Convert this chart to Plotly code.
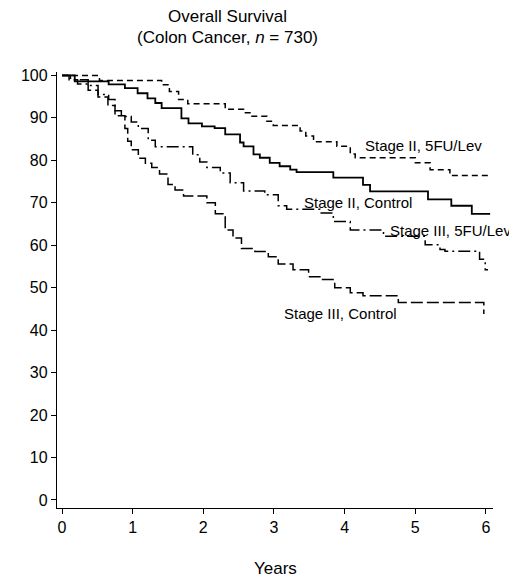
import plotly.graph_objects as go

# ---- data ----
years_s2_lev = [0, 0.53, 1.41, 1.52, 1.65, 1.78, 2.31, 2.57, 2.66, 2.90, 2.99, 3.37, 3.45, 3.56, 3.89, 4.08, 4.15, 5.00, 5.21, 5.49, 6.05]
surv_s2_lev = [100, 98.8, 97.8, 96.2, 94.3, 93.3, 92.0, 91.2, 90.4, 89.2, 88.2, 86.9, 85.7, 84.4, 83.3, 81.5, 80.6, 79.4, 77.8, 76.4, 76.4]

years_s2_ctl = [0, 0.18, 0.66, 0.89, 1.07, 1.21, 1.32, 1.41, 1.69, 1.79, 1.98, 2.16, 2.31, 2.52, 2.57, 2.71, 2.80, 2.94, 3.08, 3.23, 3.32, 3.84, 4.26, 4.36, 5.18, 5.51, 5.80, 6.06]
surv_s2_ctl = [100, 98.6, 97.9, 97.0, 95.8, 94.6, 93.5, 92.3, 89.9, 88.7, 88.0, 87.6, 86.1, 84.2, 83.3, 81.4, 80.6, 79.4, 78.6, 77.8, 77.2, 75.9, 74.2, 72.7, 70.8, 69.3, 67.4, 67.4]

years_s3_lev = [0, 0.10, 0.37, 0.51, 0.66, 0.75, 0.84, 0.98, 1.08, 1.22, 1.32, 1.85, 1.95, 2.05, 2.24, 2.38, 2.57, 2.87, 3.06, 3.18, 3.65, 3.84, 4.08, 4.55, 5.14, 5.35, 5.42, 5.91, 5.99, 6.03]
surv_s3_lev = [100, 99.0, 97.6, 95.5, 94.3, 91.7, 90.3, 89.0, 87.5, 84.7, 83.2, 81.3, 79.6, 78.3, 77.0, 74.7, 72.8, 71.9, 69.3, 68.5, 67.6, 65.6, 63.6, 62.1, 60.1, 59.0, 58.6, 56.7, 54.2, 54.2]

years_s3_ctl = [0, 0.12, 0.22, 0.37, 0.51, 0.65, 0.75, 0.89, 0.93, 0.98, 1.08, 1.18, 1.27, 1.38, 1.50, 1.60, 1.72, 2.05, 2.17, 2.31, 2.42, 2.54, 2.73, 2.92, 3.06, 3.27, 3.49, 3.65, 3.86, 4.08, 4.26, 4.76, 5.97, 5.98]
surv_s3_ctl = [100, 99.0, 98.0, 96.5, 94.9, 92.9, 90.5, 87.5, 84.5, 82.5, 80.5, 79.3, 78.3, 76.8, 74.3, 73.0, 71.6, 70.0, 67.4, 63.6, 61.7, 59.2, 58.5, 57.3, 55.6, 54.2, 52.6, 51.9, 50.0, 48.8, 48.1, 46.5, 44.0, 44.0]

x_ticks = [0, 1, 2, 3, 4, 5, 6]
y_ticks = [0, 10, 20, 30, 40, 50, 60, 70, 80, 90, 100]

curve_labels = ["Stage II, 5FU/Lev", "Stage II, Control", "Stage III, 5FU/Lev", "Stage III, Control"]
label_x = [4.26, 3.39, 4.61, 3.11]
label_y = [83.6, 70.1, 63.5, 44.0]

FONT = "Arial, Liberation Sans, sans-serif"

fig = go.Figure()
series = [
    (years_s2_lev, surv_s2_lev, "6px,4px", 1.5),
    (years_s2_ctl, surv_s2_ctl, "solid", 1.8),
    (years_s3_lev, surv_s3_lev, "12px,4px,2px,4px", 1.5),
    (years_s3_ctl, surv_s3_ctl, "12px,4px", 1.5),
]
for (xs, ys, dash, w), name in zip(series, curve_labels):
    fig.add_trace(go.Scatter(x=xs, y=ys, mode="lines", name=name,
                             line=dict(shape="hv", color="black", width=w, dash=dash),
                             showlegend=False, hoverinfo="skip"))

for txt, lx, ly in zip(curve_labels, label_x, label_y):
    fig.add_annotation(x=lx, y=ly, text=txt, showarrow=False, xanchor="left", yanchor="middle",
                       font=dict(family=FONT, size=15, color="black"))

fig.add_annotation(xref="paper", yref="paper", x=0.39, y=1.128, text="Overall Survival",
                   showarrow=False, xanchor="center", yanchor="middle",
                   font=dict(family=FONT, size=17, color="black"))
fig.add_annotation(xref="paper", yref="paper", x=0.39, y=1.078, text="(Colon Cancer, <i>n</i> = 730)",
                   showarrow=False, xanchor="center", yanchor="middle",
                   font=dict(family=FONT, size=17, color="black"))
fig.add_annotation(xref="paper", yref="paper", x=0.5, y=-0.138, text="Years",
                   showarrow=False, xanchor="center", yanchor="middle",
                   font=dict(family=FONT, size=17, color="black"))

# page body adds an 8px offset; size the figure so it fits the 517x583 window
fig.update_layout(
    width=509, height=575,
    margin=dict(l=49, r=24, t=64, b=75),
    paper_bgcolor="white", plot_bgcolor="white",
    font=dict(family=FONT, size=16, color="black"),
)
fig.update_xaxes(range=[-0.071, 6.1], tickvals=x_ticks, ticks="outside", ticklen=5, tickwidth=1,
                 tickcolor="black", showline=True, linecolor="black", linewidth=1.3,
                 showgrid=False, zeroline=False, tickfont=dict(size=16))
fig.update_yaxes(range=[-1.89, 100.8], tickvals=y_ticks, ticks="outside", ticklen=5, tickwidth=1,
                 tickcolor="black", showline=True, linecolor="black", linewidth=1.3,
                 showgrid=False, zeroline=False, tickfont=dict(size=16))

fig.write_html("out.html")
